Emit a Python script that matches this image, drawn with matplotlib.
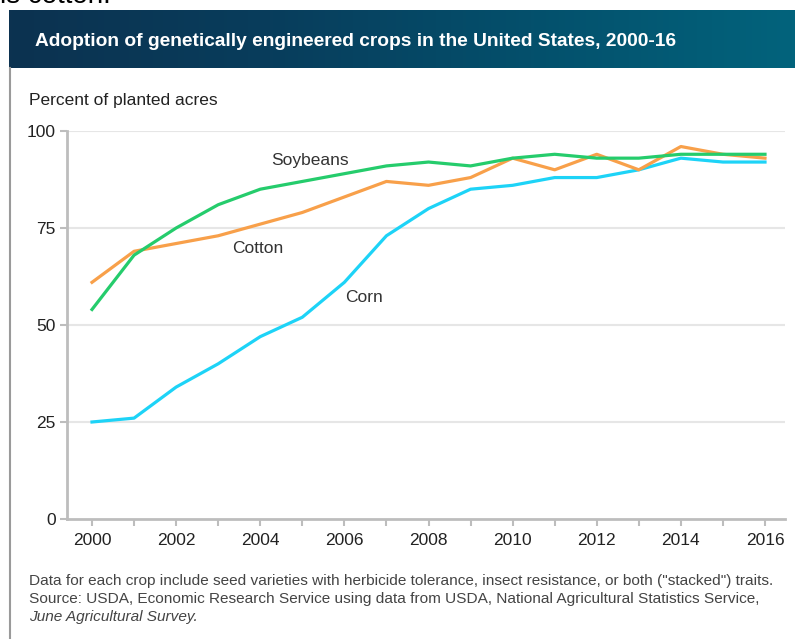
import numpy as np
import matplotlib
matplotlib.use("Agg")
import matplotlib.pyplot as plt
from matplotlib.colors import LinearSegmentedColormap
from matplotlib.lines import Line2D

plt.rcParams['font.family'] = ['Liberation Sans', 'DejaVu Sans']

# Data (percent of planted acres)
years = list(range(2000, 2017))
soybeans = [54, 68, 75, 81, 85, 87, 89, 91, 92, 91, 93, 94, 93, 93, 94, 94, 94]
cotton = [61, 69, 71, 73, 76, 79, 83, 87, 86, 88, 93, 90, 94, 90, 96, 94, 93]
corn = [25, 26, 34, 40, 47, 52, 61, 73, 80, 85, 86, 88, 88, 90, 93, 92, 92]
y_ticks = [0, 25, 50, 75, 100]
x_labels = list(range(2000, 2017, 2))

W, H = 795, 639
fig = plt.figure(figsize=(W / 100, H / 100), dpi=100)
fig.patch.set_facecolor("white")

# cut-off text from the page above the chart
fig.text(0, 1 - 3 / H, "is cotton.", fontsize=20, color="black",
         ha="left", va="baseline")

# title bar with gradient
bar = fig.add_axes([9 / W, 1 - 68 / H, (W - 9) / W, 58 / H])
cmap = LinearSegmentedColormap.from_list("bar", ["#0c3250", "#083d5c", "#04506c", "#02637c"])
bar.imshow(np.linspace(0, 1, 256)[None, :], aspect="auto", cmap=cmap, extent=[0, 1, 0, 1])
bar.set_axis_off()
fig.text(35 / W, 1 - 42 / H, "Adoption of genetically engineered crops in the United States, 2000-16",
         color="white", fontsize=13.8, fontweight="bold", ha="left", va="center")

# left border of the panel
fig.add_artist(Line2D([10 / W, 10 / W], [0, 1 - 68 / H], color="#9a9a9a", lw=1.5))

ax = fig.add_axes([67 / W, 1 - 519 / H, (785 - 67) / W, (519 - 131) / H])
ax.set_xlim(2000 - 25 / 42.06, 2016 + 20 / 42.06)
ax.set_ylim(0, 100)

for v in y_ticks[1:]:
    ax.axhline(v, color="#e6e6e6", lw=1.5, zorder=0)

ax.plot(years, corn, color="#1dd3f7", lw=2.3, solid_joinstyle="round")
ax.plot(years, cotton, color="#f8a04a", lw=2.3, solid_joinstyle="round")
ax.plot(years, soybeans, color="#25cc6c", lw=2.3, solid_joinstyle="round")

lab_col = "#333333"
ax.text(2005.18, 92.5, "Soybeans", fontsize=12.5, color=lab_col, ha="center", va="center")
ax.text(2003.93, 69.8, "Cotton", fontsize=12.5, color=lab_col, ha="center", va="center")
ax.text(2006.47, 57, "Corn", fontsize=12.5, color=lab_col, ha="center", va="center")

for s in ["top", "right"]:
    ax.spines[s].set_visible(False)
for s in ["left", "bottom"]:
    ax.spines[s].set_color("#bdbdbd")
    ax.spines[s].set_linewidth(2)

ax.set_yticks(y_ticks)
ax.set_xticks(years)
ax.set_xticklabels([str(y) if y in x_labels else "" for y in years])
ax.tick_params(axis="both", colors="#bdbdbd", width=1.5, length=5, labelcolor="#222222",
               labelsize=12.5)
ax.tick_params(axis="x", pad=5)
ax.tick_params(axis="y", pad=3)

fig.text(29 / W, 1 - 101 / H, "Percent of planted acres", fontsize=12.5, color="#222222",
         ha="left", va="center")

foot_col = "#444444"
fig.text(29 / W, 1 - 581 / H,
         'Data for each crop include seed varieties with herbicide tolerance, insect resistance, or both ("stacked") traits.',
         fontsize=11.1, color=foot_col, ha="left", va="center")
fig.text(29 / W, 1 - 599 / H,
         "Source: USDA, Economic Research Service using data from USDA, National Agricultural Statistics Service,",
         fontsize=11.1, color=foot_col, ha="left", va="center")
fig.text(29 / W, 1 - 617 / H, "June Agricultural Survey.", fontsize=11.1, color=foot_col,
         style="italic", ha="left", va="center")

fig.savefig("out.png", dpi=100)
